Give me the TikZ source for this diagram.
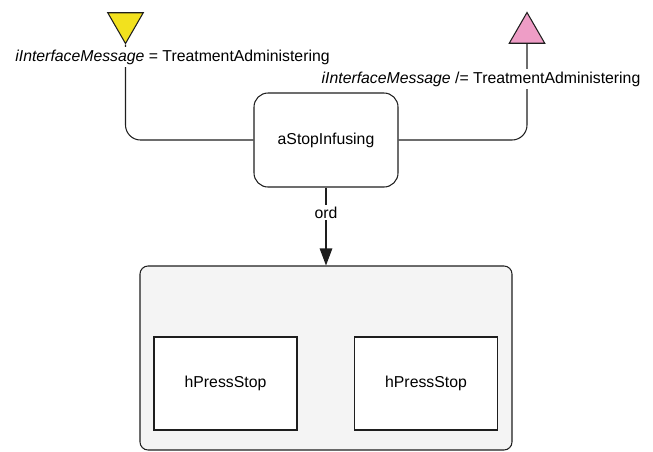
\documentclass[tikz,border=0pt]{standalone}
\usepackage{fontspec}
\setmainfont{Liberation Sans}
\usetikzlibrary{shapes.geometric,arrows.meta}
\definecolor{trigin}{HTML}{F2E11E}
\definecolor{trigout}{HTML}{EE9DC6}
\definecolor{groupfill}{HTML}{F4F4F4}
\definecolor{ink}{HTML}{1E1E1E}
\begin{document}
\begin{tikzpicture}[x=1pt,y=-1pt,line width=1.05pt,draw=ink,
  font=\fontsize{15.8}{18}\selectfont,
  activity/.style={draw,rounded corners=14pt,minimum width=144pt,minimum height=94pt,inner sep=0pt},
  group/.style={draw,fill=groupfill,rounded corners=8pt,inner sep=0pt},
  action/.style={draw,fill=white,minimum width=143pt,minimum height=93pt,inner sep=0pt},
  trig/.style={draw,regular polygon,regular polygon sides=3,minimum size=41pt,inner sep=0pt},
  guard/.style={fill=white,inner sep=2.5pt,anchor=base},
  flow/.style={draw=ink,rounded corners=15pt}]
  \useasboundingbox (0,0) rectangle (653,451);

  % activity and the grouped actions below it
  \node[activity] (stop) at (326,140) {aStopInfusing};
  \node[group,minimum width=372pt,minimum height=184pt] (grp) at (326,358) {};
  \node[action] (p1) at (225.5,383.5) {hPressStop};
  \node[action] (p2) at (426,383.5) {hPressStop};

  % incoming and outgoing triggers
  \node[trig,fill=trigin,shape border rotate=180] (tin) at (125.5,23) {};
  \node[trig,fill=trigout] (tout) at (527,33) {};

  % flows
  \draw[flow] (tin.south) |- (stop.west);
  \draw[flow] (stop.east) -| (tout.south);
  \draw[draw=ink,-{Triangle[length=17pt,width=12.5pt]}] (stop.south) -- (grp.north)
    node[pos=0.32,fill=white,inner sep=2pt] (ord) {ord};

  % guards
  \node[guard] (g1) at (172.5,61) {\textit{iInterfaceMessage} = TreatmentAdministering};
  \node[guard] (g2) at (481,83) {\textit{iInterfaceMessage} /= TreatmentAdministering};
\end{tikzpicture}
\end{document}
